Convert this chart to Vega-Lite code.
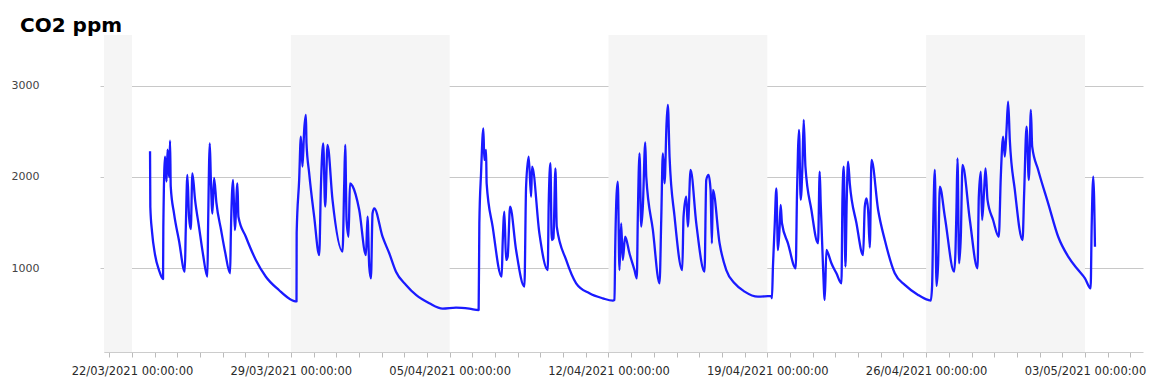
{
  "$schema": "https://vega.github.io/schema/vega-lite/v6.json",
  "width": 1039,
  "height": 317,
  "autosize": {"type": "none"},
  "padding": {"left": 104, "top": 35, "right": 6, "bottom": 31},
  "background": "white",
  "title": {"text": "CO2 ppm", "anchor": "start", "frame": "group", "dx": -84, "dy": 27, "offset": 6, "baseline": "bottom", "fontSize": 20, "fontWeight": "bold", "font": "DejaVu Sans", "color": "#000000"},
  "config": {"view": {"stroke": null}},
  "layer": [
    {
      "data": {"values": [
        {"start": "2021-03-15T00:00", "end": "2021-03-22T00:00"},
        {"start": "2021-03-29T00:00", "end": "2021-04-05T00:00"},
        {"start": "2021-04-12T00:00", "end": "2021-04-19T00:00"},
        {"start": "2021-04-26T00:00", "end": "2021-05-03T00:00"}
      ]},
      "mark": {"type": "rect", "color": "#f5f5f5", "clip": true},
      "encoding": {
        "x": {"field": "start", "type": "temporal", "title": null,
          "scale": {"domain": [{"year": 2021, "month": 3, "date": 20, "hours": 18, "minutes": 22}, {"year": 2021, "month": 5, "date": 5, "hours": 13, "minutes": 24}], "nice": false}},
        "x2": {"field": "end"}
      }
    },
    {
      "data": {"values": [
        {"time": "2021-03-22T19:04", "co2": 2281}, {"time": "2021-03-22T19:22", "co2": 1675}, {"time": "2021-03-22T21:11", "co2": 1400}, {"time": "2021-03-23T00:21", "co2": 1150}, {"time": "2021-03-23T04:35", "co2": 980}, {"time": "2021-03-23T08:49", "co2": 885}, {"time": "2021-03-23T09:08", "co2": 1457}, {"time": "2021-03-23T10:56", "co2": 2222}, {"time": "2021-03-23T12:32", "co2": 1950}, {"time": "2021-03-23T13:35", "co2": 2300}, {"time": "2021-03-23T15:10", "co2": 2000}, {"time": "2021-03-23T16:14", "co2": 2397}, {"time": "2021-03-23T16:58", "co2": 1894}, {"time": "2021-03-23T20:28", "co2": 1600}, {"time": "2021-03-24T01:46", "co2": 1300}, {"time": "2021-03-24T07:48", "co2": 965}, {"time": "2021-03-24T08:51", "co2": 1420}, {"time": "2021-03-24T10:33", "co2": 2022}, {"time": "2021-03-24T12:21", "co2": 1560}, {"time": "2021-03-24T14:09", "co2": 1430}, {"time": "2021-03-24T15:51", "co2": 2040}, {"time": "2021-03-24T18:42", "co2": 1750}, {"time": "2021-03-24T22:56", "co2": 1450}, {"time": "2021-03-25T03:10", "co2": 1150}, {"time": "2021-03-25T07:43", "co2": 910}, {"time": "2021-03-25T08:28", "co2": 1450}, {"time": "2021-03-25T10:16", "co2": 2368}, {"time": "2021-03-25T11:20", "co2": 2000}, {"time": "2021-03-25T13:01", "co2": 1600}, {"time": "2021-03-25T14:49", "co2": 1989}, {"time": "2021-03-25T17:15", "co2": 1720}, {"time": "2021-03-25T22:14", "co2": 1420}, {"time": "2021-03-26T02:28", "co2": 1180}, {"time": "2021-03-26T07:46", "co2": 947}, {"time": "2021-03-26T08:30", "co2": 1350}, {"time": "2021-03-26T10:56", "co2": 1967}, {"time": "2021-03-26T12:44", "co2": 1420}, {"time": "2021-03-26T15:29", "co2": 1931}, {"time": "2021-03-26T16:33", "co2": 1566}, {"time": "2021-03-27T00:23", "co2": 1347}, {"time": "2021-03-27T10:58", "co2": 1093}, {"time": "2021-03-27T21:34", "co2": 910}, {"time": "2021-03-28T11:38", "co2": 762}, {"time": "2021-03-28T22:14", "co2": 671}, {"time": "2021-03-29T06:00", "co2": 640},
        {"time": "2021-03-29T06:10", "co2": 1388}, {"time": "2021-03-29T08:48", "co2": 1967}, {"time": "2021-03-29T10:36", "co2": 2440}, {"time": "2021-03-29T12:19", "co2": 2113}, {"time": "2021-03-29T14:07", "co2": 2514}, {"time": "2021-03-29T15:55", "co2": 2678}, {"time": "2021-03-29T16:34", "co2": 2368}, {"time": "2021-03-29T19:25", "co2": 2040}, {"time": "2021-03-30T00:42", "co2": 1566}, {"time": "2021-03-30T06:00", "co2": 1147}, {"time": "2021-03-30T07:48", "co2": 1894}, {"time": "2021-03-30T10:14", "co2": 2368}, {"time": "2021-03-30T12:21", "co2": 1675}, {"time": "2021-03-30T14:47", "co2": 2350}, {"time": "2021-03-30T20:05", "co2": 1749}, {"time": "2021-03-31T06:40", "co2": 1184}, {"time": "2021-03-31T08:29", "co2": 1931}, {"time": "2021-03-31T09:32", "co2": 2350}, {"time": "2021-03-31T10:56", "co2": 1530}, {"time": "2021-03-31T13:03", "co2": 1347}, {"time": "2021-03-31T14:31", "co2": 1931}, {"time": "2021-03-31T17:17", "co2": 1900}, {"time": "2021-04-01T00:21", "co2": 1639}, {"time": "2021-04-01T07:26", "co2": 1147}, {"time": "2021-04-01T09:08", "co2": 1566}, {"time": "2021-04-01T10:56", "co2": 1020}, {"time": "2021-04-01T12:44", "co2": 893}, {"time": "2021-04-01T14:26", "co2": 1603}, {"time": "2021-04-01T16:14", "co2": 1658}, {"time": "2021-04-02T01:00", "co2": 1347}, {"time": "2021-04-02T08:07", "co2": 1166}, {"time": "2021-04-02T15:13", "co2": 965}, {"time": "2021-04-03T01:48", "co2": 820}, {"time": "2021-04-03T12:24", "co2": 711}, {"time": "2021-04-04T02:28", "co2": 620}, {"time": "2021-04-04T16:36", "co2": 561}, {"time": "2021-04-05T06:44", "co2": 572}, {"time": "2021-04-05T20:48", "co2": 561}, {"time": "2021-04-06T06:40", "co2": 546},
        {"time": "2021-04-06T07:24", "co2": 1494}, {"time": "2021-04-06T09:12", "co2": 2040}, {"time": "2021-04-06T11:38", "co2": 2532}, {"time": "2021-04-06T12:41", "co2": 2186}, {"time": "2021-04-06T14:29", "co2": 2295}, {"time": "2021-04-06T15:07", "co2": 1931}, {"time": "2021-04-06T21:28", "co2": 1457}, {"time": "2021-04-07T07:00", "co2": 910}, {"time": "2021-04-07T08:04", "co2": 1275}, {"time": "2021-04-07T09:52", "co2": 1621}, {"time": "2021-04-07T11:40", "co2": 1093}, {"time": "2021-04-07T13:22", "co2": 1129}, {"time": "2021-04-07T15:55", "co2": 1675}, {"time": "2021-04-07T22:15", "co2": 1202}, {"time": "2021-04-08T07:04", "co2": 801}, {"time": "2021-04-08T08:50", "co2": 1894}, {"time": "2021-04-08T11:35", "co2": 2222}, {"time": "2021-04-08T14:08", "co2": 1785}, {"time": "2021-04-08T15:11", "co2": 2113}, {"time": "2021-04-08T22:55", "co2": 1384}, {"time": "2021-04-09T07:43", "co2": 983}, {"time": "2021-04-09T08:47", "co2": 1712}, {"time": "2021-04-09T10:35", "co2": 2150}, {"time": "2021-04-09T11:58", "co2": 1311}, {"time": "2021-04-09T13:46", "co2": 1330}, {"time": "2021-04-09T15:53", "co2": 2095}, {"time": "2021-04-09T17:16", "co2": 1457}, {"time": "2021-04-10T03:13", "co2": 1093}, {"time": "2021-04-10T13:48", "co2": 838}, {"time": "2021-04-11T03:52", "co2": 729}, {"time": "2021-04-11T17:56", "co2": 674}, {"time": "2021-04-12T04:34", "co2": 648}, {"time": "2021-04-12T06:20", "co2": 656},
        {"time": "2021-04-12T07:06", "co2": 1202}, {"time": "2021-04-12T08:28", "co2": 1785}, {"time": "2021-04-12T09:51", "co2": 1949}, {"time": "2021-04-12T11:37", "co2": 983}, {"time": "2021-04-12T13:25", "co2": 1494}, {"time": "2021-04-12T15:07", "co2": 1093}, {"time": "2021-04-12T17:38", "co2": 1347}, {"time": "2021-04-12T22:11", "co2": 1166}, {"time": "2021-04-13T03:29", "co2": 983}, {"time": "2021-04-13T05:58", "co2": 893}, {"time": "2021-04-13T07:02", "co2": 1566}, {"time": "2021-04-13T08:50", "co2": 2259}, {"time": "2021-04-13T10:38", "co2": 1457}, {"time": "2021-04-13T12:20", "co2": 1675}, {"time": "2021-04-13T14:53", "co2": 2377}, {"time": "2021-04-13T15:57", "co2": 2004}, {"time": "2021-04-13T22:57", "co2": 1421}, {"time": "2021-04-14T06:00", "co2": 838}, {"time": "2021-04-14T07:48", "co2": 1530}, {"time": "2021-04-14T09:31", "co2": 2259}, {"time": "2021-04-14T11:19", "co2": 1931}, {"time": "2021-04-14T13:26", "co2": 2587}, {"time": "2021-04-14T14:48", "co2": 2787}, {"time": "2021-04-14T16:36", "co2": 2222}, {"time": "2021-04-14T21:54", "co2": 1566}, {"time": "2021-04-15T06:02", "co2": 983}, {"time": "2021-04-15T07:24", "co2": 1566}, {"time": "2021-04-15T10:16", "co2": 1785}, {"time": "2021-04-15T11:58", "co2": 1457}, {"time": "2021-04-15T14:49", "co2": 2077}, {"time": "2021-04-15T20:52", "co2": 1494}, {"time": "2021-04-16T05:37", "co2": 965}, {"time": "2021-04-16T07:25", "co2": 1967}, {"time": "2021-04-16T09:52", "co2": 2022}, {"time": "2021-04-16T11:59", "co2": 1858}, {"time": "2021-04-16T13:23", "co2": 1275}, {"time": "2021-04-16T14:27", "co2": 1858}, {"time": "2021-04-16T21:31", "co2": 1275}, {"time": "2021-04-17T04:36", "co2": 983}, {"time": "2021-04-17T13:24", "co2": 838}, {"time": "2021-04-18T00:00", "co2": 747}, {"time": "2021-04-18T14:05", "co2": 692}, {"time": "2021-04-19T04:13", "co2": 700}, {"time": "2021-04-19T04:54", "co2": 674},
        {"time": "2021-04-19T05:58", "co2": 1020}, {"time": "2021-04-19T07:46", "co2": 1457}, {"time": "2021-04-19T09:34", "co2": 1876}, {"time": "2021-04-19T11:16", "co2": 1202}, {"time": "2021-04-19T13:03", "co2": 1457}, {"time": "2021-04-19T14:07", "co2": 1694}, {"time": "2021-04-19T15:30", "co2": 1494}, {"time": "2021-04-19T21:52", "co2": 1275}, {"time": "2021-04-20T06:02", "co2": 1002}, {"time": "2021-04-20T07:25", "co2": 1822}, {"time": "2021-04-20T08:29", "co2": 2295}, {"time": "2021-04-20T09:32", "co2": 2514}, {"time": "2021-04-20T11:20", "co2": 1749}, {"time": "2021-04-20T13:08", "co2": 2113}, {"time": "2021-04-20T14:31", "co2": 2623}, {"time": "2021-04-20T16:19", "co2": 2113}, {"time": "2021-04-20T22:39", "co2": 1639}, {"time": "2021-04-21T05:38", "co2": 1275}, {"time": "2021-04-21T07:26", "co2": 2058}, {"time": "2021-04-21T08:29", "co2": 1712}, {"time": "2021-04-21T10:56", "co2": 1020}, {"time": "2021-04-21T12:44", "co2": 656}, {"time": "2021-04-21T14:32", "co2": 1202}, {"time": "2021-04-21T16:14", "co2": 1166}, {"time": "2021-04-21T19:49", "co2": 1057}, {"time": "2021-04-22T01:07", "co2": 947}, {"time": "2021-04-22T06:25", "co2": 838}, {"time": "2021-04-22T07:28", "co2": 1749}, {"time": "2021-04-22T08:51", "co2": 2113}, {"time": "2021-04-22T10:39", "co2": 1020}, {"time": "2021-04-22T12:01", "co2": 1749}, {"time": "2021-04-22T13:26", "co2": 2167}, {"time": "2021-04-22T15:14", "co2": 1931}, {"time": "2021-04-22T22:19", "co2": 1494}, {"time": "2021-04-23T05:20", "co2": 1147}, {"time": "2021-04-23T07:07", "co2": 1675}, {"time": "2021-04-23T08:55", "co2": 1767}, {"time": "2021-04-23T10:37", "co2": 1639}, {"time": "2021-04-23T12:25", "co2": 1229}, {"time": "2021-04-23T14:13", "co2": 2186}, {"time": "2021-04-23T21:14", "co2": 1639}, {"time": "2021-04-24T04:17", "co2": 1311}, {"time": "2021-04-24T14:50", "co2": 947}, {"time": "2021-04-25T01:26", "co2": 820}, {"time": "2021-04-25T15:32", "co2": 711}, {"time": "2021-04-26T02:07", "co2": 656}, {"time": "2021-04-26T04:56", "co2": 650},
        {"time": "2021-04-26T06:19", "co2": 809}, {"time": "2021-04-26T07:23", "co2": 1421}, {"time": "2021-04-26T09:11", "co2": 2077}, {"time": "2021-04-26T10:59", "co2": 809}, {"time": "2021-04-26T12:41", "co2": 1057}, {"time": "2021-04-26T14:29", "co2": 1894}, {"time": "2021-04-26T19:47", "co2": 1566}, {"time": "2021-04-27T05:37", "co2": 965}, {"time": "2021-04-27T07:05", "co2": 1202}, {"time": "2021-04-27T08:08", "co2": 1675}, {"time": "2021-04-27T09:11", "co2": 2204}, {"time": "2021-04-27T10:53", "co2": 1057}, {"time": "2021-04-27T12:41", "co2": 1347}, {"time": "2021-04-27T14:29", "co2": 2131}, {"time": "2021-04-27T22:14", "co2": 1530}, {"time": "2021-04-28T06:22", "co2": 1002}, {"time": "2021-04-28T07:44", "co2": 1785}, {"time": "2021-04-28T09:50", "co2": 2058}, {"time": "2021-04-28T11:13", "co2": 1530}, {"time": "2021-04-28T13:21", "co2": 1858}, {"time": "2021-04-28T14:50", "co2": 2095}, {"time": "2021-04-28T16:56", "co2": 1749}, {"time": "2021-04-28T22:51", "co2": 1530}, {"time": "2021-04-29T04:52", "co2": 1347}, {"time": "2021-04-29T06:59", "co2": 2004}, {"time": "2021-04-29T09:26", "co2": 2440}, {"time": "2021-04-29T11:14", "co2": 2222}, {"time": "2021-04-29T13:02", "co2": 2514}, {"time": "2021-04-29T14:44", "co2": 2823}, {"time": "2021-04-29T16:31", "co2": 2404}, {"time": "2021-04-29T21:49", "co2": 1858}, {"time": "2021-04-30T05:59", "co2": 1311}, {"time": "2021-04-30T07:41", "co2": 1822}, {"time": "2021-04-30T10:13", "co2": 2550}, {"time": "2021-04-30T12:39", "co2": 1967}, {"time": "2021-04-30T14:47", "co2": 2732}, {"time": "2021-04-30T16:11", "co2": 2331}, {"time": "2021-04-30T22:32", "co2": 2077}, {"time": "2021-05-01T09:06", "co2": 1712}, {"time": "2021-05-01T19:42", "co2": 1347}, {"time": "2021-05-02T06:18", "co2": 1129}, {"time": "2021-05-02T16:54", "co2": 983}, {"time": "2021-05-03T00:00", "co2": 893}, {"time": "2021-05-03T06:00", "co2": 783}, {"time": "2021-05-03T07:06", "co2": 1457}, {"time": "2021-05-03T08:48", "co2": 2004}, {"time": "2021-05-03T10:36", "co2": 1238}
      ]},
      "mark": {"type": "line", "color": "#1a1aff", "strokeWidth": 2.3, "strokeJoin": "round", "interpolate": "monotone"},
      "encoding": {
        "x": {
          "field": "time", "type": "temporal",
          "scale": {"domain": [{"year": 2021, "month": 3, "date": 20, "hours": 18, "minutes": 22}, {"year": 2021, "month": 5, "date": 5, "hours": 13, "minutes": 24}], "nice": false},
          "axis": {
            "title": null, "grid": false,
            "tickCount": {"interval": "day", "step": 1},
            "labelExpr": "day(datum.value) == 1 ? timeFormat(datum.value, '%d/%m/%Y %H:%M:%S') : ''",
            "labelOverlap": false, "labelFlush": false,
            "labelFont": "DejaVu Sans", "labelFontSize": 11.5, "labelColor": "#2a2a2a",
            "tickSize": 5, "tickColor": "#bbbbbb", "domainColor": "#cccccc", "labelPadding": 8
          }
        },
        "y": {
          "field": "co2", "type": "quantitative",
          "scale": {"domain": [87, 3552], "nice": false, "zero": false},
          "axis": {
            "title": null, "values": [1000, 2000, 3000], "format": "d", "grid": true, "gridColor": "#c8c8c8",
            "tickSize": 4, "tickColor": "#c8c8c8", "domainColor": "#d0d0d0",
            "labelFont": "DejaVu Sans", "labelFontSize": 11, "labelColor": "#444444",
            "labelAlign": "right", "labelPadding": 61
          }
        }
      }
    }
  ]
}
